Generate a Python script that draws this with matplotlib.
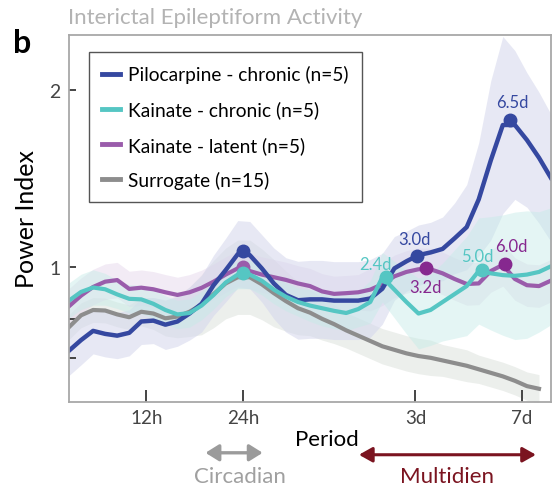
import numpy as np
import matplotlib.pyplot as plt
from matplotlib.lines import Line2D
from matplotlib.patches import FancyArrowPatch

plt.rcParams['font.family'] = ['Lato', 'DejaVu Sans']

# === Data (period bins, left to right) ===
x = np.arange(41)
nan = np.nan

pilo = [0.525, 0.585, 0.637, 0.62, 0.61, 0.626, 0.69, 0.695, 0.672, 0.69,
        0.735, 0.79, 0.895, 0.98, 1.07, 1.065, 0.99, 0.905, 0.84, 0.81,
        0.815, 0.815, 0.808, 0.808, 0.808, 0.82, 0.875, 0.99, 1.03, 1.065,
        1.08, 1.10, 1.16, 1.223, 1.38, 1.60, 1.80, 1.80, 1.715, 1.615, 1.50]
pilo_sd = [0.14, 0.14, 0.13, 0.13, 0.13, 0.13, 0.13, 0.13, 0.14, 0.14,
           0.15, 0.16, 0.17, 0.18, 0.19, 0.19, 0.19, 0.2, 0.21, 0.22,
           0.22, 0.22, 0.22, 0.22, 0.22, 0.22, 0.2, 0.18, 0.17, 0.17,
           0.17, 0.18, 0.2, 0.24, 0.32, 0.45, 0.5, 0.42, 0.38, 0.37, 0.36]

kain_chr = [0.808, 0.857, 0.882, 0.872, 0.843, 0.818, 0.815, 0.79, 0.755, 0.73,
            0.738, 0.78, 0.84, 0.91, 0.955, 0.955, 0.92, 0.87, 0.83, 0.80,
            0.78, 0.765, 0.75, 0.738, 0.76, 0.80, 0.94, 0.87, 0.80, 0.735,
            0.755, 0.80, 0.845, 0.89, 0.975, 0.962, 0.952, 0.948, 0.955, 0.97, 1.002]
kain_chr_sd = [0.1, 0.1, 0.1, 0.09, 0.08, 0.08, 0.08, 0.08, 0.08, 0.08,
               0.08, 0.08, 0.08, 0.08, 0.08, 0.08, 0.08, 0.08, 0.08, 0.08,
               0.09, 0.1, 0.1, 0.1, 0.1, 0.12, 0.14, 0.16, 0.18, 0.2,
               0.2, 0.22, 0.25, 0.28, 0.3, 0.32, 0.34, 0.36, 0.36, 0.34, 0.33]

kain_lat = [0.776, 0.836, 0.885, 0.915, 0.924, 0.874, 0.881, 0.872, 0.855, 0.84,
            0.855, 0.88, 0.915, 0.955, 0.99, 0.975, 0.955, 0.94, 0.925, 0.905,
            0.89, 0.86, 0.846, 0.85, 0.855, 0.87, 0.90, 0.945, 0.97, 0.985,
            0.985, 0.962, 0.93, 0.902, 0.905, 0.975, 1.01, 0.93, 0.895, 0.89, 0.921]
kain_lat_sd = [0.1] * 25 + [0.12] * 16

surr = [0.658, 0.725, 0.755, 0.752, 0.73, 0.714, 0.745, 0.735, 0.708, 0.718,
        0.745, 0.785, 0.845, 0.905, 0.94, 0.94, 0.90, 0.85, 0.805, 0.765,
        0.74, 0.705, 0.675, 0.64, 0.61, 0.58, 0.55, 0.53, 0.51, 0.495,
        0.485, 0.47, 0.455, 0.44, 0.42, 0.40, 0.38, 0.355, 0.325, 0.31, nan]
surr_sd = [0.07, 0.07, 0.07, 0.07, 0.07, 0.07, 0.08, 0.09, 0.1, 0.12,
           0.14, 0.17, 0.19, 0.2, 0.21, 0.21, 0.2, 0.19, 0.17, 0.15,
           0.13, 0.12, 0.11, 0.1, 0.1, 0.1, 0.1, 0.1, 0.1, 0.1,
           0.1, 0.09, 0.09, 0.09, 0.08, 0.08, 0.08, 0.08, 0.08, 0.08, nan]

tick_pos = [6.42, 14.43, 28.75, 37.58]
tick_labels = ['12h', '24h', '3d', '7d']

# peak markers: (x position, value, label)
pilo_peaks = [(14.43, 1.09, ''), (28.85, 1.062, '3.0d'), (36.6, 1.83, '6.5d')]
kchr_peaks = [(14.43, 0.965, ''), (26.3, 0.94, '2.4d'), (34.3, 0.983, '5.0d')]
klat_peaks = [(14.43, 0.995, ''), (29.6, 0.99, '3.2d'), (36.2, 1.015, '6.0d')]

c_pilo = '#3548a0'
c_kchr = '#55c6c3'
c_klat = '#9a5cab'
c_klat_dark = '#86288f'
c_surr = '#8d8d8d'

# === Plotting ===
fig = plt.figure(figsize=(5.6, 4.89), dpi=100)
ax = fig.add_axes([0.1232, 0.1765, 0.8608, 0.7505])

ax.fill_between(x, np.array(surr) - surr_sd, np.array(surr) + surr_sd,
                color='#e6eae6', alpha=0.75, lw=0)
ax.fill_between(x, np.array(kain_lat) - kain_lat_sd, np.array(kain_lat) + kain_lat_sd,
                color='#e4d3ea', alpha=0.45, lw=0)
ax.fill_between(x, np.array(pilo) - pilo_sd, np.array(pilo) + pilo_sd,
                color='#d4d6ec', alpha=0.55, lw=0)
ax.fill_between(x, np.array(kain_chr) - kain_chr_sd, np.array(kain_chr) + kain_chr_sd,
                color='#c4ebe7', alpha=0.45, lw=0)

ax.plot(x, surr, color=c_surr, lw=3.0)
ax.plot(x, kain_lat, color=c_klat, lw=3.0)
ax.plot(x, pilo, color=c_pilo, lw=3.2)
ax.plot(x, kain_chr, color=c_kchr, lw=3.0)

ax.plot([p[0] for p in klat_peaks[:1]], [p[1] for p in klat_peaks[:1]], 'o',
        color=c_klat, ms=9)
ax.plot([p[0] for p in klat_peaks[1:]], [p[1] for p in klat_peaks[1:]], 'o',
        color=c_klat_dark, ms=9)
ax.plot([p[0] for p in pilo_peaks], [p[1] for p in pilo_peaks], 'o', color=c_pilo, ms=9)
ax.plot([p[0] for p in kchr_peaks], [p[1] for p in kchr_peaks], 'o', color=c_kchr, ms=9)

fs_pk = 12
ax.text(pilo_peaks[1][0] - 0.2, pilo_peaks[1][1] + 0.095, pilo_peaks[1][2],
        color=c_pilo, fontsize=fs_pk, ha='center', va='center')
ax.text(pilo_peaks[2][0] + 0.2, pilo_peaks[2][1] + 0.1, pilo_peaks[2][2],
        color=c_pilo, fontsize=fs_pk, ha='center', va='center')
ax.text(kchr_peaks[1][0] - 0.9, kchr_peaks[1][1] + 0.075, kchr_peaks[1][2],
        color=c_kchr, fontsize=fs_pk, ha='center', va='center')
ax.text(kchr_peaks[2][0] - 0.4, kchr_peaks[2][1] + 0.075, kchr_peaks[2][2],
        color=c_kchr, fontsize=fs_pk, ha='center', va='center')
ax.text(klat_peaks[1][0], klat_peaks[1][1] - 0.105, klat_peaks[1][2],
        color=c_klat_dark, fontsize=fs_pk, ha='center', va='center')
ax.text(klat_peaks[2][0] + 0.5, klat_peaks[2][1] + 0.1, klat_peaks[2][2],
        color=c_klat_dark, fontsize=fs_pk, ha='center', va='center')

ax.set_xlim(0, 40)
ax.set_ylim(0.237, 2.31)
ax.set_xticks(tick_pos)
ax.set_xticklabels(tick_labels)
ax.set_yticks([0.484, 0.705, 1, 2])
ax.set_yticklabels(['', '', '1', '2'])
ax.tick_params(axis='x', direction='in', length=9, width=1.4, color='#444444',
               labelsize=13.5, labelcolor='#444444', pad=5)
ax.tick_params(axis='y', direction='in', length=5, width=1.4, color='#444444',
               labelsize=14, labelcolor='#444444', pad=6)
for s in ax.spines.values():
    s.set_color('#a8a8a8')
    s.set_linewidth(1.3)

ax.set_ylabel('Power Index', fontsize=18, labelpad=8)

handles = [Line2D([], [], color=c, lw=3.5) for c in (c_pilo, c_kchr, c_klat, c_surr)]
labels = ['Pilocarpine - chronic (n=5)', 'Kainate - chronic (n=5)',
          'Kainate - latent (n=5)', 'Surrogate (n=15)']
leg = ax.legend(handles, labels, loc='upper left', bbox_to_anchor=(0.042, 0.952),
                borderaxespad=0, fontsize=13.8, handlelength=0.95, handletextpad=0.4,
                labelspacing=0.9, borderpad=0.68, fancybox=False, framealpha=1)
leg.get_frame().set_edgecolor('#555555')
leg.get_frame().set_linewidth(1.0)

fig.text(0.121, 0.963, 'Interictal Epileptiform Activity', color='#b3b3b3',
         fontsize=16, va='center', ha='left')
fig.text(0.024, 0.912, 'b', fontsize=23, fontweight='bold', va='center')

fig.text(0.584, 0.088, 'Period', fontsize=16, ha='center', va='baseline')
fig.text(0.428, 0.012, 'Circadian', fontsize=16, color='#a0a0a0', ha='center',
         va='baseline')
fig.text(0.799, 0.012, 'Multidien', fontsize=16, color='#7b1420', ha='center',
         va='baseline')
fig.add_artist(FancyArrowPatch(
    (0.362, 0.072), (0.474, 0.072), transform=fig.transFigure,
    arrowstyle='<|-|>,head_length=8,head_width=5', color='#9b9b9b', lw=2.4))
fig.add_artist(FancyArrowPatch(
    (0.636, 0.068), (0.962, 0.068), transform=fig.transFigure,
    arrowstyle='<|-|>,head_length=8,head_width=4.5', color='#7b1420', lw=2.2))

plt.savefig('out.png', dpi=100)
